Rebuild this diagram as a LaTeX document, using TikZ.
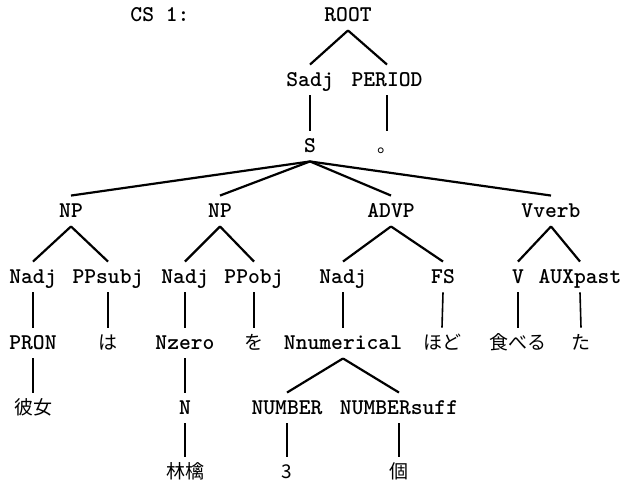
\documentclass[tikz,border=0pt]{standalone}
\usepackage{fontspec}
\newfontfamily\jpfont{Noto Sans CJK JP}

\begin{document}
\begin{tikzpicture}[x=1pt,y=-1pt,
    lbl/.style={font=\fontsize{22.5}{24}\selectfont\ttfamily\bfseries,inner xsep=0pt,inner ysep=9pt,text height=12.5pt,text depth=0pt},
    jp/.style={lbl,font=\fontsize{19}{22}\selectfont\jpfont},
    branch/.style={line width=2.2pt},
    stem/.style={line width=1.6pt}]
    \useasboundingbox (0,0) rectangle (622,484);

    \node[lbl] (cs) at (160,15) {CS 1:};
    \node[lbl] (root) at (348,15) {ROOT};
    \node[lbl] (sadj) at (310,80) {Sadj};
    \node[lbl] (period) at (387,80) {PERIOD};
    \node[lbl] (s) at (310,146) {S};
    \node[jp] (maru) at (387,146) {。};

    \node[lbl] (np1) at (71,211) {NP};
    \node[lbl] (np2) at (220,211) {NP};
    \node[lbl] (advp) at (391,211) {ADVP};
    \node[lbl] (vverb) at (551,211) {Vverb};

    \node[lbl] (nadj1) at (33,277) {Nadj};
    \node[lbl] (ppsubj) at (108,277) {PPsubj};
    \node[lbl] (nadj2) at (185,277) {Nadj};
    \node[lbl] (ppobj) at (254,277) {PPobj};
    \node[lbl] (nadj3) at (343,277) {Nadj};
    \node[lbl] (fs) at (443,277) {FS};
    \node[lbl] (v) at (518,277) {V};
    \node[lbl] (auxpast) at (580,277) {AUXpast};

    \node[lbl] (pron) at (33,343) {PRON};
    \node[jp] (ha) at (108,343) {は};
    \node[lbl] (nzero) at (185,343) {Nzero};
    \node[jp] (wo) at (254,343) {を};
    \node[lbl] (nnum) at (343,343) {Nnumerical};
    \node[jp] (hodo) at (442,343) {ほど};
    \node[jp] (taberu) at (518,343) {食べる};
    \node[jp] (ta) at (581,343) {た};

    \node[jp] (kanojo) at (33,408) {彼女};
    \node[lbl] (n) at (185,408) {N};
    \node[lbl] (number) at (287,408) {NUMBER};
    \node[lbl] (numsuff) at (399,408) {NUMBERsuff};

    \node[jp] (ringo) at (185,472) {林檎};
    \node[jp] (three) at (287,472) {3};
    \node[jp] (ko) at (399,472) {個};

    \foreach \a/\b in {root/sadj,root/period,s/np1,s/np2,s/advp,s/vverb,
        np1/nadj1,np1/ppsubj,np2/nadj2,np2/ppobj,advp/nadj3,advp/fs,
        vverb/v,vverb/auxpast,nnum/number,nnum/numsuff}
        \draw[branch] (\a.south) -- (\b.north);

    \foreach \a/\b in {sadj/s,period/maru,nadj1/pron,ppsubj/ha,nadj2/nzero,
        ppobj/wo,nadj3/nnum,fs/hodo,v/taberu,auxpast/ta,pron/kanojo,
        nzero/n,n/ringo,number/three,numsuff/ko}
        \draw[stem] (\a.south) -- (\b.north);
\end{tikzpicture}
\end{document}
